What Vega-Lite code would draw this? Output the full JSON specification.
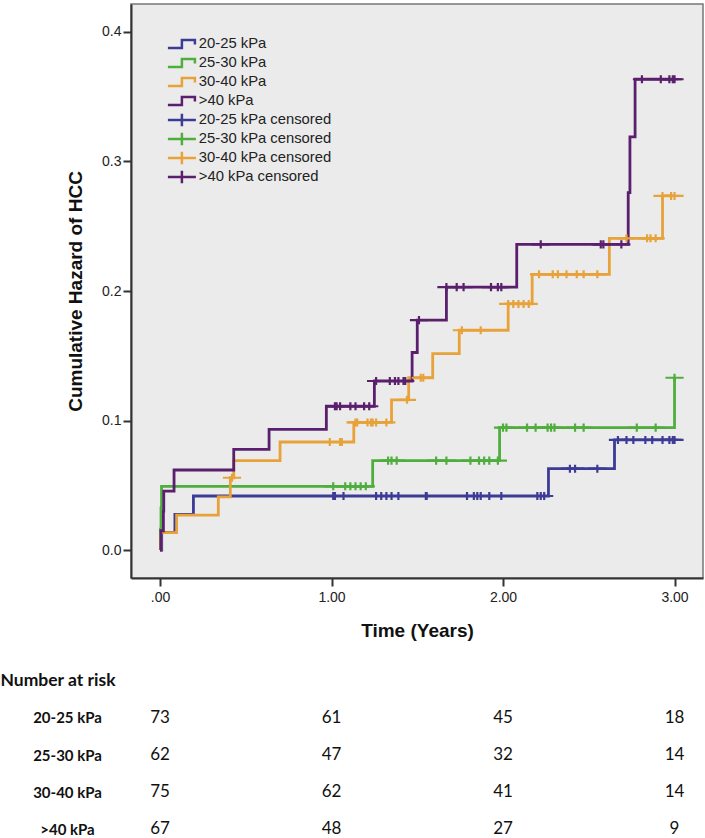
{
  "$schema": "https://vega.github.io/schema/vega-lite/v6.json",
  "padding": {"left": 0, "top": 3, "right": 2, "bottom": 0},
  "background": "white",
  "bounds": "flush",
  "spacing": 130.7,
  "config": {
    "axis": {"labelFont": "Liberation Sans", "labelFontSize": 14, "labelColor": "#222", "titleFont": "Liberation Sans", "titleFontWeight": "bold", "titleColor": "#111", "grid": false, "domainColor": "#333", "domainWidth": 2, "tickColor": "#333", "tickWidth": 2}
  },
  "resolve": {"scale": {"x": "independent", "y": "independent"}},
  "datasets": {
    "curves": [
      {"series": "20-25 kPa", "t": 0, "v": 0}, {"series": "20-25 kPa", "t": 0.01, "v": 0.0137}, {"series": "20-25 kPa", "t": 0.087, "v": 0.0276}, {"series": "20-25 kPa", "t": 0.195, "v": 0.0417}, {"series": "20-25 kPa", "t": 2.265, "v": 0.0628}, {"series": "20-25 kPa", "t": 2.65, "v": 0.085}, {"series": "20-25 kPa", "t": 3.0, "v": 0.085},
      {"series": "25-30 kPa", "t": 0, "v": 0}, {"series": "25-30 kPa", "t": 0.003, "v": 0.0161}, {"series": "25-30 kPa", "t": 0.006, "v": 0.0325}, {"series": "25-30 kPa", "t": 0.009, "v": 0.0492}, {"series": "25-30 kPa", "t": 1.24, "v": 0.069}, {"series": "25-30 kPa", "t": 1.98, "v": 0.0945}, {"series": "25-30 kPa", "t": 3.0, "v": 0.133},
      {"series": "30-40 kPa", "t": 0, "v": 0}, {"series": "30-40 kPa", "t": 0.005, "v": 0.0134}, {"series": "30-40 kPa", "t": 0.097, "v": 0.027}, {"series": "30-40 kPa", "t": 0.34, "v": 0.041}, {"series": "30-40 kPa", "t": 0.41, "v": 0.0558}, {"series": "30-40 kPa", "t": 0.43, "v": 0.069}, {"series": "30-40 kPa", "t": 0.70, "v": 0.0834}, {"series": "30-40 kPa", "t": 1.13, "v": 0.0985}, {"series": "30-40 kPa", "t": 1.35, "v": 0.116}, {"series": "30-40 kPa", "t": 1.45, "v": 0.133}, {"series": "30-40 kPa", "t": 1.59, "v": 0.1516}, {"series": "30-40 kPa", "t": 1.745, "v": 0.1697}, {"series": "30-40 kPa", "t": 2.03, "v": 0.19}, {"series": "30-40 kPa", "t": 2.17, "v": 0.2129}, {"series": "30-40 kPa", "t": 2.62, "v": 0.2407}, {"series": "30-40 kPa", "t": 2.93, "v": 0.2734}, {"series": "30-40 kPa", "t": 3.0, "v": 0.2734},
      {"series": ">40 kPa", "t": 0, "v": 0}, {"series": ">40 kPa", "t": 0.005, "v": 0.0149}, {"series": ">40 kPa", "t": 0.02, "v": 0.0301}, {"series": ">40 kPa", "t": 0.022, "v": 0.0455}, {"series": ">40 kPa", "t": 0.082, "v": 0.0618}, {"series": ">40 kPa", "t": 0.43, "v": 0.0777}, {"series": ">40 kPa", "t": 0.636, "v": 0.0932}, {"series": ">40 kPa", "t": 0.97, "v": 0.111}, {"series": ">40 kPa", "t": 1.25, "v": 0.1305}, {"series": ">40 kPa", "t": 1.47, "v": 0.1525}, {"series": ">40 kPa", "t": 1.50, "v": 0.1775}, {"series": ">40 kPa", "t": 1.67, "v": 0.203}, {"series": ">40 kPa", "t": 2.08, "v": 0.236}, {"series": ">40 kPa", "t": 2.73, "v": 0.276}, {"series": ">40 kPa", "t": 2.74, "v": 0.319}, {"series": ">40 kPa", "t": 2.77, "v": 0.3635}, {"series": ">40 kPa", "t": 3.0, "v": 0.3635}
    ],
    "censored": [
      {"series": "20-25 kPa censored", "t": 1.01, "v": 0.0417}, {"series": "20-25 kPa censored", "t": 1.02, "v": 0.0417}, {"series": "20-25 kPa censored", "t": 1.07, "v": 0.0417}, {"series": "20-25 kPa censored", "t": 1.26, "v": 0.0417}, {"series": "20-25 kPa censored", "t": 1.29, "v": 0.0417}, {"series": "20-25 kPa censored", "t": 1.32, "v": 0.0417}, {"series": "20-25 kPa censored", "t": 1.35, "v": 0.0417}, {"series": "20-25 kPa censored", "t": 1.39, "v": 0.0417}, {"series": "20-25 kPa censored", "t": 1.55, "v": 0.0417}, {"series": "20-25 kPa censored", "t": 1.555, "v": 0.0417}, {"series": "20-25 kPa censored", "t": 1.79, "v": 0.0417}, {"series": "20-25 kPa censored", "t": 1.83, "v": 0.0417}, {"series": "20-25 kPa censored", "t": 1.85, "v": 0.0417}, {"series": "20-25 kPa censored", "t": 1.87, "v": 0.0417}, {"series": "20-25 kPa censored", "t": 1.92, "v": 0.0417}, {"series": "20-25 kPa censored", "t": 1.99, "v": 0.0417}, {"series": "20-25 kPa censored", "t": 2.20, "v": 0.0417}, {"series": "20-25 kPa censored", "t": 2.22, "v": 0.0417}, {"series": "20-25 kPa censored", "t": 2.24, "v": 0.0417},
      {"series": "20-25 kPa censored", "t": 2.39, "v": 0.0628}, {"series": "20-25 kPa censored", "t": 2.42, "v": 0.0628}, {"series": "20-25 kPa censored", "t": 2.55, "v": 0.0628},
      {"series": "20-25 kPa censored", "t": 2.67, "v": 0.085}, {"series": "20-25 kPa censored", "t": 2.72, "v": 0.085}, {"series": "20-25 kPa censored", "t": 2.76, "v": 0.085}, {"series": "20-25 kPa censored", "t": 2.83, "v": 0.085}, {"series": "20-25 kPa censored", "t": 2.87, "v": 0.085}, {"series": "20-25 kPa censored", "t": 2.93, "v": 0.085}, {"series": "20-25 kPa censored", "t": 2.97, "v": 0.085}, {"series": "20-25 kPa censored", "t": 2.99, "v": 0.085}, {"series": "20-25 kPa censored", "t": 3.0, "v": 0.085},
      {"series": "25-30 kPa censored", "t": 1.01, "v": 0.0492}, {"series": "25-30 kPa censored", "t": 1.08, "v": 0.0492}, {"series": "25-30 kPa censored", "t": 1.11, "v": 0.0492}, {"series": "25-30 kPa censored", "t": 1.14, "v": 0.0492}, {"series": "25-30 kPa censored", "t": 1.17, "v": 0.0492}, {"series": "25-30 kPa censored", "t": 1.20, "v": 0.0492},
      {"series": "25-30 kPa censored", "t": 1.33, "v": 0.069}, {"series": "25-30 kPa censored", "t": 1.35, "v": 0.069}, {"series": "25-30 kPa censored", "t": 1.38, "v": 0.069}, {"series": "25-30 kPa censored", "t": 1.61, "v": 0.069}, {"series": "25-30 kPa censored", "t": 1.67, "v": 0.069}, {"series": "25-30 kPa censored", "t": 1.81, "v": 0.069}, {"series": "25-30 kPa censored", "t": 1.86, "v": 0.069}, {"series": "25-30 kPa censored", "t": 1.89, "v": 0.069}, {"series": "25-30 kPa censored", "t": 1.92, "v": 0.069}, {"series": "25-30 kPa censored", "t": 1.97, "v": 0.069},
      {"series": "25-30 kPa censored", "t": 2.0, "v": 0.0945}, {"series": "25-30 kPa censored", "t": 2.02, "v": 0.0945}, {"series": "25-30 kPa censored", "t": 2.14, "v": 0.0945}, {"series": "25-30 kPa censored", "t": 2.19, "v": 0.0945}, {"series": "25-30 kPa censored", "t": 2.26, "v": 0.0945}, {"series": "25-30 kPa censored", "t": 2.28, "v": 0.0945}, {"series": "25-30 kPa censored", "t": 2.30, "v": 0.0945}, {"series": "25-30 kPa censored", "t": 2.42, "v": 0.0945}, {"series": "25-30 kPa censored", "t": 2.47, "v": 0.0945}, {"series": "25-30 kPa censored", "t": 2.78, "v": 0.0945}, {"series": "25-30 kPa censored", "t": 2.89, "v": 0.0945},
      {"series": "25-30 kPa censored", "t": 3.0, "v": 0.133},
      {"series": "30-40 kPa censored", "t": 0.42, "v": 0.0558},
      {"series": "30-40 kPa censored", "t": 0.99, "v": 0.0834}, {"series": "30-40 kPa censored", "t": 1.05, "v": 0.0834}, {"series": "30-40 kPa censored", "t": 1.06, "v": 0.0834},
      {"series": "30-40 kPa censored", "t": 1.14, "v": 0.0985}, {"series": "30-40 kPa censored", "t": 1.15, "v": 0.0985}, {"series": "30-40 kPa censored", "t": 1.21, "v": 0.0985}, {"series": "30-40 kPa censored", "t": 1.23, "v": 0.0985}, {"series": "30-40 kPa censored", "t": 1.24, "v": 0.0985}, {"series": "30-40 kPa censored", "t": 1.26, "v": 0.0985}, {"series": "30-40 kPa censored", "t": 1.32, "v": 0.0985},
      {"series": "30-40 kPa censored", "t": 1.44, "v": 0.116},
      {"series": "30-40 kPa censored", "t": 1.52, "v": 0.133}, {"series": "30-40 kPa censored", "t": 1.535, "v": 0.133},
      {"series": "30-40 kPa censored", "t": 1.76, "v": 0.1697}, {"series": "30-40 kPa censored", "t": 1.87, "v": 0.1697},
      {"series": "30-40 kPa censored", "t": 2.03, "v": 0.19}, {"series": "30-40 kPa censored", "t": 2.06, "v": 0.19}, {"series": "30-40 kPa censored", "t": 2.09, "v": 0.19}, {"series": "30-40 kPa censored", "t": 2.12, "v": 0.19}, {"series": "30-40 kPa censored", "t": 2.15, "v": 0.19},
      {"series": "30-40 kPa censored", "t": 2.21, "v": 0.2129}, {"series": "30-40 kPa censored", "t": 2.29, "v": 0.2129}, {"series": "30-40 kPa censored", "t": 2.32, "v": 0.2129}, {"series": "30-40 kPa censored", "t": 2.37, "v": 0.2129}, {"series": "30-40 kPa censored", "t": 2.43, "v": 0.2129}, {"series": "30-40 kPa censored", "t": 2.47, "v": 0.2129}, {"series": "30-40 kPa censored", "t": 2.55, "v": 0.2129},
      {"series": "30-40 kPa censored", "t": 2.72, "v": 0.2407}, {"series": "30-40 kPa censored", "t": 2.84, "v": 0.2407}, {"series": "30-40 kPa censored", "t": 2.86, "v": 0.2407}, {"series": "30-40 kPa censored", "t": 2.89, "v": 0.2407},
      {"series": "30-40 kPa censored", "t": 2.93, "v": 0.2734}, {"series": "30-40 kPa censored", "t": 2.98, "v": 0.2734}, {"series": "30-40 kPa censored", "t": 3.0, "v": 0.2734},
      {"series": ">40 kPa censored", "t": 1.02, "v": 0.111}, {"series": ">40 kPa censored", "t": 1.03, "v": 0.111}, {"series": ">40 kPa censored", "t": 1.05, "v": 0.111}, {"series": ">40 kPa censored", "t": 1.11, "v": 0.111}, {"series": ">40 kPa censored", "t": 1.14, "v": 0.111}, {"series": ">40 kPa censored", "t": 1.19, "v": 0.111}, {"series": ">40 kPa censored", "t": 1.22, "v": 0.111},
      {"series": ">40 kPa censored", "t": 1.26, "v": 0.1305}, {"series": ">40 kPa censored", "t": 1.34, "v": 0.1305}, {"series": ">40 kPa censored", "t": 1.37, "v": 0.1305}, {"series": ">40 kPa censored", "t": 1.39, "v": 0.1305}, {"series": ">40 kPa censored", "t": 1.42, "v": 0.1305}, {"series": ">40 kPa censored", "t": 1.43, "v": 0.1305},
      {"series": ">40 kPa censored", "t": 1.51, "v": 0.1775},
      {"series": ">40 kPa censored", "t": 1.67, "v": 0.203}, {"series": ">40 kPa censored", "t": 1.73, "v": 0.203}, {"series": ">40 kPa censored", "t": 1.77, "v": 0.203}, {"series": ">40 kPa censored", "t": 1.93, "v": 0.203}, {"series": ">40 kPa censored", "t": 1.97, "v": 0.203}, {"series": ">40 kPa censored", "t": 1.99, "v": 0.203},
      {"series": ">40 kPa censored", "t": 2.22, "v": 0.236}, {"series": ">40 kPa censored", "t": 2.57, "v": 0.236}, {"series": ">40 kPa censored", "t": 2.585, "v": 0.236}, {"series": ">40 kPa censored", "t": 2.69, "v": 0.236},
      {"series": ">40 kPa censored", "t": 2.81, "v": 0.3635}, {"series": ">40 kPa censored", "t": 2.92, "v": 0.3635}, {"series": ">40 kPa censored", "t": 2.97, "v": 0.3635}, {"series": ">40 kPa censored", "t": 2.99, "v": 0.3635}, {"series": ">40 kPa censored", "t": 3.0, "v": 0.3635}
    ],
    "risk": [
      {"group": "20-25 kPa", "time": 0, "n": 73}, {"group": "20-25 kPa", "time": 1, "n": 61}, {"group": "20-25 kPa", "time": 2, "n": 45}, {"group": "20-25 kPa", "time": 3, "n": 18},
      {"group": "25-30 kPa", "time": 0, "n": 62}, {"group": "25-30 kPa", "time": 1, "n": 47}, {"group": "25-30 kPa", "time": 2, "n": 32}, {"group": "25-30 kPa", "time": 3, "n": 14},
      {"group": "30-40 kPa", "time": 0, "n": 75}, {"group": "30-40 kPa", "time": 1, "n": 62}, {"group": "30-40 kPa", "time": 2, "n": 41}, {"group": "30-40 kPa", "time": 3, "n": 14},
      {"group": ">40 kPa", "time": 0, "n": 67}, {"group": ">40 kPa", "time": 1, "n": 48}, {"group": ">40 kPa", "time": 2, "n": 27}, {"group": ">40 kPa", "time": 3, "n": 9}
    ]
  },
  "vconcat": [
    {
      "width": 572,
      "height": 574,
      "view": {"fill": "#ebebeb", "stroke": "#777", "strokeWidth": 1.5},
      "layer": [
        {
          "data": {"name": "curves"},
          "mark": {"type": "line", "interpolate": "step-after", "strokeWidth": 2.8},
          "encoding": {
            "x": {"field": "t", "type": "quantitative", "scale": {"domain": [-0.169, 3.166], "nice": false, "zero": false},
              "axis": {"values": [0, 1, 2, 3], "labelExpr": "datum.value == 0 ? '.00' : format(datum.value, '.2f')", "tickSize": 8, "labelPadding": 4, "title": "Time (Years)", "titleFontSize": 19, "titlePadding": 17}},
            "y": {"field": "v", "type": "quantitative", "scale": {"domain": [-0.0216, 0.4216], "nice": false, "zero": false},
              "axis": {"values": [0, 0.1, 0.2, 0.3, 0.4], "format": ".1f", "tickSize": 8, "labelPadding": 2, "title": "Cumulative Hazard of HCC", "titleFontSize": 19, "titlePadding": 16}},
            "color": {"field": "series", "type": "nominal",
              "scale": {"domain": ["20-25 kPa", "25-30 kPa", "30-40 kPa", ">40 kPa", "20-25 kPa censored", "25-30 kPa censored", "30-40 kPa censored", ">40 kPa censored"],
                "range": ["#3c3c96", "#4fae3e", "#e8a23a", "#5a1f6d", "#3c3c96", "#4fae3e", "#e8a23a", "#5a1f6d"]}}
          }
        },
        {
          "data": {"name": "censored"},
          "mark": {"type": "point", "filled": false, "size": 42, "strokeWidth": 2.2, "opacity": 1},
          "encoding": {
            "x": {"field": "t", "type": "quantitative"},
            "y": {"field": "v", "type": "quantitative"},
            "color": {"field": "series", "type": "nominal",
              "scale": {"domain": ["20-25 kPa", "25-30 kPa", "30-40 kPa", ">40 kPa", "20-25 kPa censored", "25-30 kPa censored", "30-40 kPa censored", ">40 kPa censored"],
                "range": ["#3c3c96", "#4fae3e", "#e8a23a", "#5a1f6d", "#3c3c96", "#4fae3e", "#e8a23a", "#5a1f6d"]},
              "legend": {"orient": "none", "legendX": 43.5, "legendY": 32.5, "title": null, "padding": 0, "symbolSize": 100, "symbolStrokeWidth": 2.5, "symbolOpacity": 1, "symbolFillColor": "transparent", "labelFont": "Liberation Sans", "labelFontSize": 14.8, "labelColor": "#222", "labelOffset": 9.5, "rowPadding": -5.4}},
            "shape": {"field": "series", "type": "nominal",
              "scale": {"domain": ["20-25 kPa", "25-30 kPa", "30-40 kPa", ">40 kPa", "20-25 kPa censored", "25-30 kPa censored", "30-40 kPa censored", ">40 kPa censored"],
                "range": ["M-2.8,0.8H0V-0.8H2.6V0.1M0,-1.25M0,1.25", "M-2.8,0.8H0V-0.8H2.6V0.1M0,-1.25M0,1.25", "M-2.8,0.8H0V-0.8H2.6V0.1M0,-1.25M0,1.25", "M-2.8,0.8H0V-0.8H2.6V0.1M0,-1.25M0,1.25", "M-2.8,0H2.8M0,-1.25V1.25", "M-2.8,0H2.8M0,-1.25V1.25", "M-2.8,0H2.8M0,-1.25V1.25", "M-2.8,0H2.8M0,-1.25V1.25"]},
              "legend": {"orient": "none", "legendX": 43.5, "legendY": 32.5, "title": null, "padding": 0, "symbolSize": 100, "symbolStrokeWidth": 2.5, "symbolOpacity": 1, "symbolFillColor": "transparent", "labelFont": "Liberation Sans", "labelFontSize": 14.8, "labelColor": "#222", "labelOffset": 9.5, "rowPadding": -5.4}}
          }
        }
      ]
    },
    {
      "width": 572,
      "height": 130,
      "view": {"stroke": null, "fill": null},
      "data": {"name": "risk"},
      "mark": {"type": "text", "font": "Lato", "fontSize": 17, "color": "#111"},
      "encoding": {
        "x": {"field": "time", "type": "quantitative", "scale": {"domain": [-0.169, 3.166], "nice": false, "zero": false}, "axis": null},
        "y": {"field": "group", "type": "nominal", "sort": ["20-25 kPa", "25-30 kPa", "30-40 kPa", ">40 kPa"], "scale": {"type": "point", "padding": 0.25},
          "axis": {"orient": "left", "ticks": false, "tickSize": 0, "domain": false, "labelAlign": "center", "labelPadding": 64, "labelFont": "Lato", "labelFontWeight": "bold", "labelFontSize": 15, "labelColor": "#111", "title": "Number at risk", "titleAngle": 0, "titleAlign": "left", "titleBaseline": "middle", "titleX": -131, "titleY": -28.7, "titleFont": "Lato", "titleFontSize": 17.5, "titleFontWeight": "bold", "titleColor": "#111"}},
        "text": {"field": "n", "type": "quantitative"}
      }
    }
  ]
}
